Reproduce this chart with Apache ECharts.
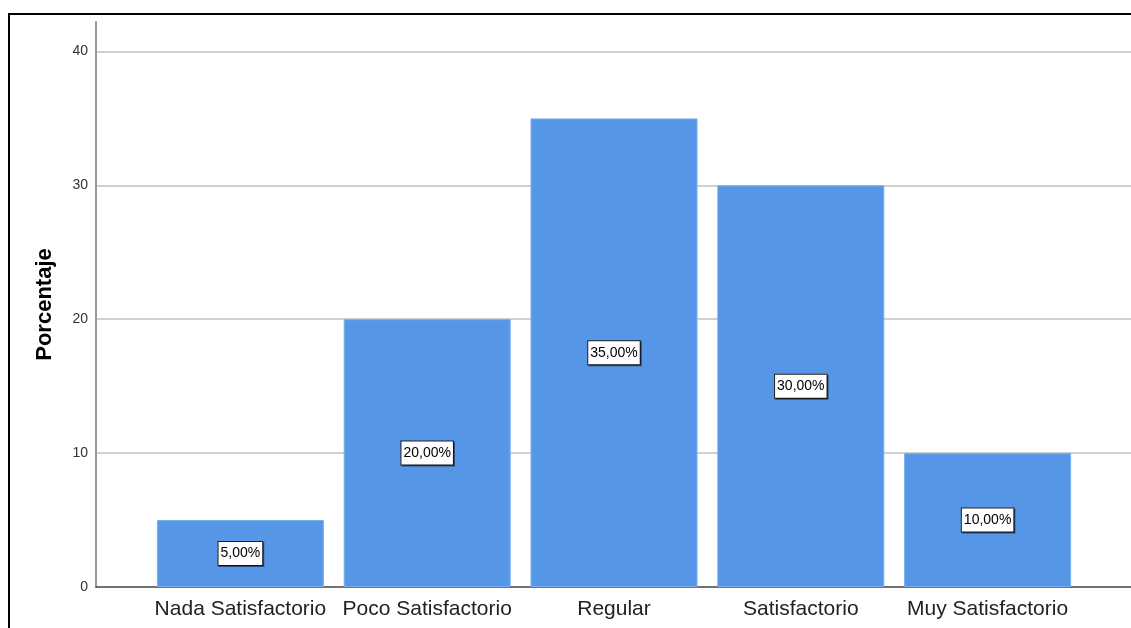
<!DOCTYPE html>
<html>
<head>
<meta charset="utf-8">
<script src="https://cdn.jsdelivr.net/npm/echarts@6/dist/echarts.min.js"></script>
<style>
  html, body { margin: 0; padding: 0; background: #fff; overflow: hidden; }
  #wrap { position: relative; width: 1131px; height: 628px; }
  #frame {
    position: absolute; left: 8px; top: 13px; width: 1200px; height: 700px;
    border-top: 2px solid #000; border-left: 2px solid #000;
  }
  #chart { position: absolute; left: 0; top: 0; width: 1131px; height: 628px; }
</style>
</head>
<body>
<div id="wrap">
  <div id="frame"></div>
  <div id="chart"></div>
</div>
<script>
// categorias y porcentajes
var categories = ['Nada Satisfactorio', 'Poco Satisfactorio', 'Regular', 'Satisfactorio', 'Muy Satisfactorio']
var percents = [5, 20, 35, 30, 10]
var yTicks = [0, 10, 20, 30, 40]

var chart = echarts.init(document.getElementById('chart'))
var fontFam = '"Liberation Sans", Arial, sans-serif'

chart.setOption({
  animation: false,
  grid: [
    // ejes y lineas de cuadricula
    { left: 96, right: -10, top: 22, bottom: 41, containLabel: false },
    // barras
    { left: 147, width: 934, top: 22, bottom: 41, containLabel: false }
  ],
  xAxis: [
    {
      gridIndex: 0,
      type: 'value',
      min: 0,
      max: 1,
      axisLine: { show: true, lineStyle: { color: '#444', width: 1.5 } },
      axisTick: { show: false },
      axisLabel: { show: false },
      splitLine: { show: false }
    },
    {
      gridIndex: 1,
      type: 'category',
      data: categories,
      axisLine: { show: false },
      axisTick: { show: false },
      axisLabel: {
        interval: 0, hideOverlap: false,
        color: '#222', fontSize: 21, fontFamily: fontFam, margin: 12
      }
    }
  ],
  yAxis: [
    {
      gridIndex: 0,
      type: 'value',
      min: 0,
      max: 42.2,
      interval: 10,
      name: 'Porcentaje',
      nameLocation: 'middle',
      nameGap: 40,
      nameTextStyle: { color: '#000', fontSize: 22, fontWeight: 'bold', fontFamily: fontFam },
      axisLine: { show: true, lineStyle: { color: '#999', width: 2 } },
      axisTick: { show: false },
      axisLabel: {
        color: '#333', fontSize: 14, fontFamily: fontFam, margin: 8, showMaxLabel: false,
        formatter: function(v) { return yTicks.indexOf(v) >= 0 ? String(v) : '' }
      },
      splitLine: { show: true, showMinLine: false, showMaxLine: false, lineStyle: { color: '#d0d0d0', width: 2 } }
    },
    {
      gridIndex: 1,
      type: 'value',
      min: 0,
      max: 42.2,
      interval: 10,
      show: false,
      splitLine: { show: false }
    }
  ],
  series: [{
    type: 'bar',
    xAxisIndex: 1,
    yAxisIndex: 1,
    data: percents,
    barWidth: 167,
    itemStyle: { color: '#5596e6', borderColor: '#7aaef0', borderWidth: 1 },
    label: {
      show: true,
      position: 'inside',
      formatter: function(p) { return p.value.toFixed(2).replace('.', ',') + '%' },
      color: '#000',
      fontSize: 14,
      fontFamily: fontFam,
      backgroundColor: '#fff',
      borderColor: '#222',
      borderWidth: 1,
      padding: [5, 2, 4, 2],
      shadowColor: 'rgba(0,0,0,0.5)',
      shadowOffsetX: 1,
      shadowOffsetY: 1,
      shadowBlur: 0
    }
  }]
})
</script>
</body>
</html>
